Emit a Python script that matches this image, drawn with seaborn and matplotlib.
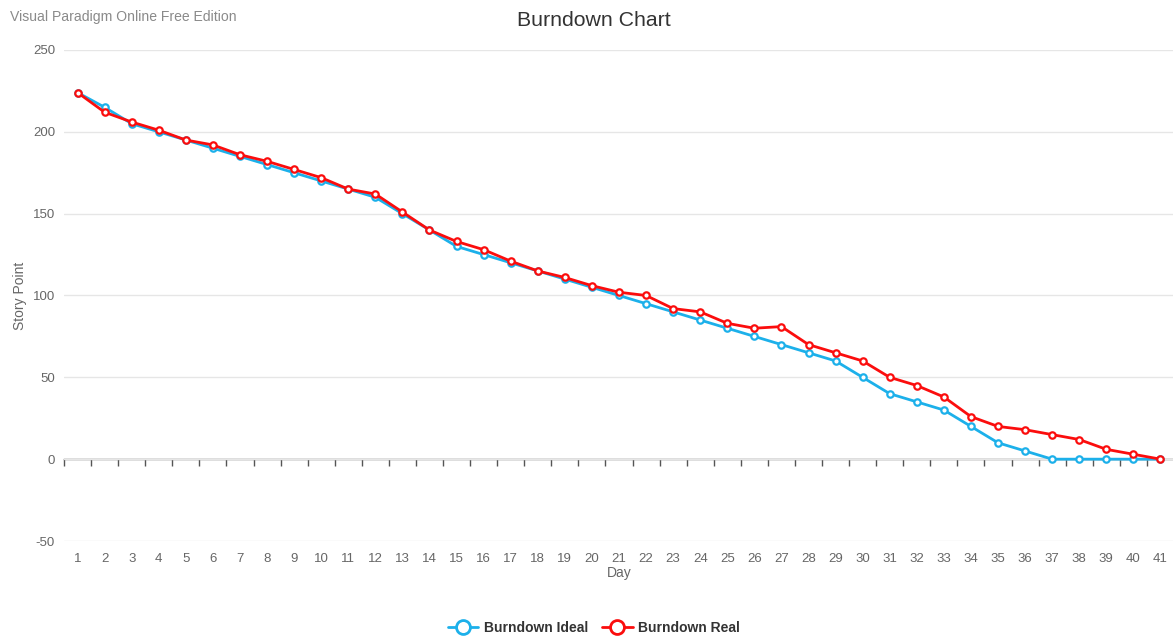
import matplotlib
matplotlib.use("Agg")
import matplotlib.pyplot as plt
import numpy as np
import pandas as pd
import seaborn as sns

days = list(range(1, 42))
ideal = [224, 215, 205, 200, 195, 190, 185, 180, 175, 170,
         165, 160, 150, 140, 130, 125, 120, 115, 110, 105,
         100, 95, 90, 85, 80, 75, 70, 65, 60, 50,
         40, 35, 30, 20, 10, 5, 0, 0, 0, 0, 0]
real = [224, 212, 206, 201, 195, 192, 186, 182, 177, 172,
        165, 162, 151, 140, 133, 128, 121, 115, 111, 106,
        102, 100, 92, 90, 83, 80, 81, 70, 65, 60,
        50, 45, 38, 26, 20, 18, 15, 12, 6, 3, 0]
series_names = ["Burndown Ideal", "Burndown Real"]
y_ticks = [-50, 0, 50, 100, 150, 200, 250]

df = pd.DataFrame({"Day": days, series_names[0]: ideal, series_names[1]: real})

sns.set_theme(style="white")
plt.rcParams["font.family"] = ["Liberation Sans", "DejaVu Sans"]
plt.rcParams["axes.unicode_minus"] = False

colors = {series_names[0]: "#1cb0ea", series_names[1]: "#fb0d0d"}

fig = plt.figure(figsize=(11.73, 6.42), dpi=100)
ax = fig.add_axes([64 / 1173, 101 / 642, 1110 / 1173, 491 / 642])

for name in series_names:
    sns.lineplot(data=df, x="Day", y=name, color=colors[name],
                 marker="o", markersize=4.6, markerfacecolor="white",
                 markeredgecolor=colors[name], markeredgewidth=1.6,
                 linewidth=2, ax=ax, label=name, legend=False)

ax.set_xlim(0.5, 41.5)
ax.set_ylim(-50, 250)
ax.set_yticks(y_ticks)
ax.set_xticks(days)
ax.grid(axis="y", color="#e6e6e6", linewidth=1)
ax.set_axisbelow(True)
for s in ax.spines.values():
    s.set_visible(False)
ax.tick_params(axis="both", length=0, colors="#666666", labelsize=9.5)
ax.tick_params(axis="x", pad=9)
ax.tick_params(axis="y", pad=6.5)
ax.set_xlabel("Day", color="#666666", fontsize=10, labelpad=0)
ax.set_ylabel("Story Point", color="#666666", fontsize=10, labelpad=4)

# zero axis line with category boundary ticks
bounds = np.arange(0.5, 42, 1)
zero_axis = ax.secondary_xaxis(50 / 300)
zero_axis.set_xticks(bounds, labels=[""] * len(bounds))
zero_axis.tick_params(axis="x", direction="out", length=5, width=1,
                      color="#555555")
zero_axis.spines["bottom"].set_color("#555555")
zero_axis.spines["bottom"].set_linewidth(1)

fig.text(594 / 1173, 1 - 20 / 642, "Burndown Chart", ha="center", va="center",
         fontsize=15.3, color="#333333")
fig.text(10 / 1173, 1 - 17.5 / 642, "Visual Paradigm Online Free Edition",
         ha="left", va="center", fontsize=10.1, color="#8a8a8a")

handles = [plt.Line2D([], [], color=colors[n], linewidth=2, marker="o",
                      markersize=10, markerfacecolor="white",
                      markeredgewidth=2) for n in series_names]
leg = fig.legend(handles, series_names, loc="center", ncol=2,
                 bbox_to_anchor=(594 / 1173, 1 - 628 / 642), frameon=False,
                 handlelength=2.2, handletextpad=0.4, columnspacing=1.0,
                 prop={"weight": "bold", "size": 10})
for t in leg.get_texts():
    t.set_color("#333333")

fig.savefig("out.png", dpi=100)
